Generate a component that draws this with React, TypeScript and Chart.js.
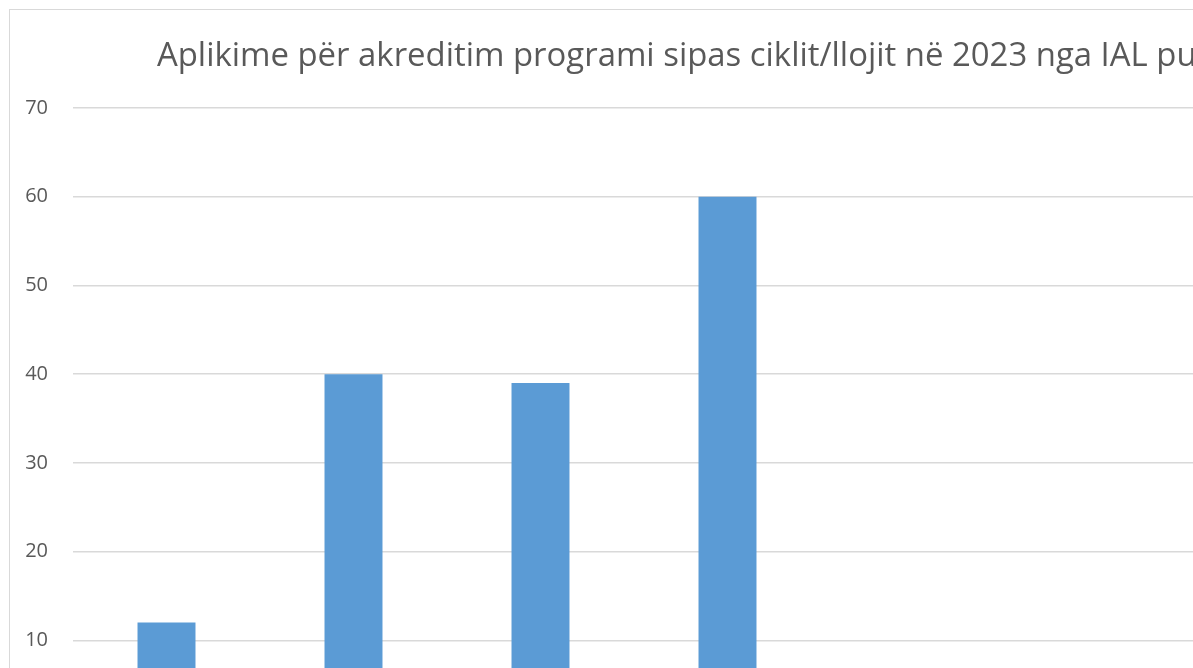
import React, { useEffect, useRef } from "react";
import { Chart, registerables } from "chart.js";

Chart.register(...registerables);

const titleText = "Aplikime për akreditim programi sipas ciklit/llojit në 2023 nga IAL publike";
const categories = [
  "Bachelor",
  "Master Profesional",
  "Master i Shkencave",
  "Programe të integruara",
  "Doktoratë",
  "Profesionale",
  "Të tjera",
];
const values = [12, 40, 39, 60, 0, 0, 0];
const yTicks = { min: 0, max: 70, step: 10 };

const CANVAS_W = 1432;
const CANVAS_H = 780;

export default function App() {
  const ref = useRef<HTMLCanvasElement | null>(null);
  useEffect(() => {
    if (!ref.current) return;
    const chart = new Chart(ref.current, {
      type: "bar",
      data: {
        labels: categories,
        datasets: [
          {
            data: values,
            backgroundColor: "#5b9bd5",
            borderWidth: 0,
            barPercentage: 0.31,
            categoryPercentage: 1,
          },
        ],
      },
      options: {
        responsive: false,
        maintainAspectRatio: false,
        animation: false,
        layout: { padding: { left: 0, right: 26, top: 0, bottom: 0 } },
        plugins: {
          legend: { display: false },
          tooltip: { enabled: false },
          title: {
            display: true,
            text: titleText,
            color: "#595959",
            font: { family: "'Open Sans'", size: 32.9, weight: "normal" },
            padding: { top: 26.7, bottom: 31.9 },
          },
        },
        scales: {
          x: {
            grid: { display: false, drawTicks: false },
            border: { display: false },
            ticks: { color: "#595959", font: { family: "'Open Sans'", size: 20 } },
            afterFit: (s: any) => {
              s.height = 61;
            },
          },
          y: {
            min: yTicks.min,
            max: yTicks.max,
            grid: { color: "#d9d9d9", lineWidth: 1.5, drawTicks: false },
            border: { display: false },
            ticks: {
              stepSize: yTicks.step,
              padding: 25,
              color: "#595959",
              font: { family: "'Open Sans'", size: 20 },
            },
            afterFit: (s: any) => {
              s.width = 63;
            },
          },
          yRightSpace: {
            position: "right",
            min: yTicks.min,
            max: yTicks.max,
            grid: { display: false, drawTicks: false },
            border: { display: false },
            ticks: { display: false },
            afterFit: (s: any) => {
              s.width = 34;
            },
          },
        },
      },
    });
    return () => chart.destroy();
  }, []);

  return (
    <div style={{ position: "fixed", left: 0, top: 0, width: 1193, height: 668, overflow: "hidden", background: "#fff" }}>
      <div style={{ position: "absolute", left: 9, top: 9, border: "1px solid #d9d9d9", width: CANVAS_W, height: CANVAS_H }}>
        <canvas ref={ref} width={CANVAS_W} height={CANVAS_H} style={{ display: "block" }} />
      </div>
    </div>
  );
}
